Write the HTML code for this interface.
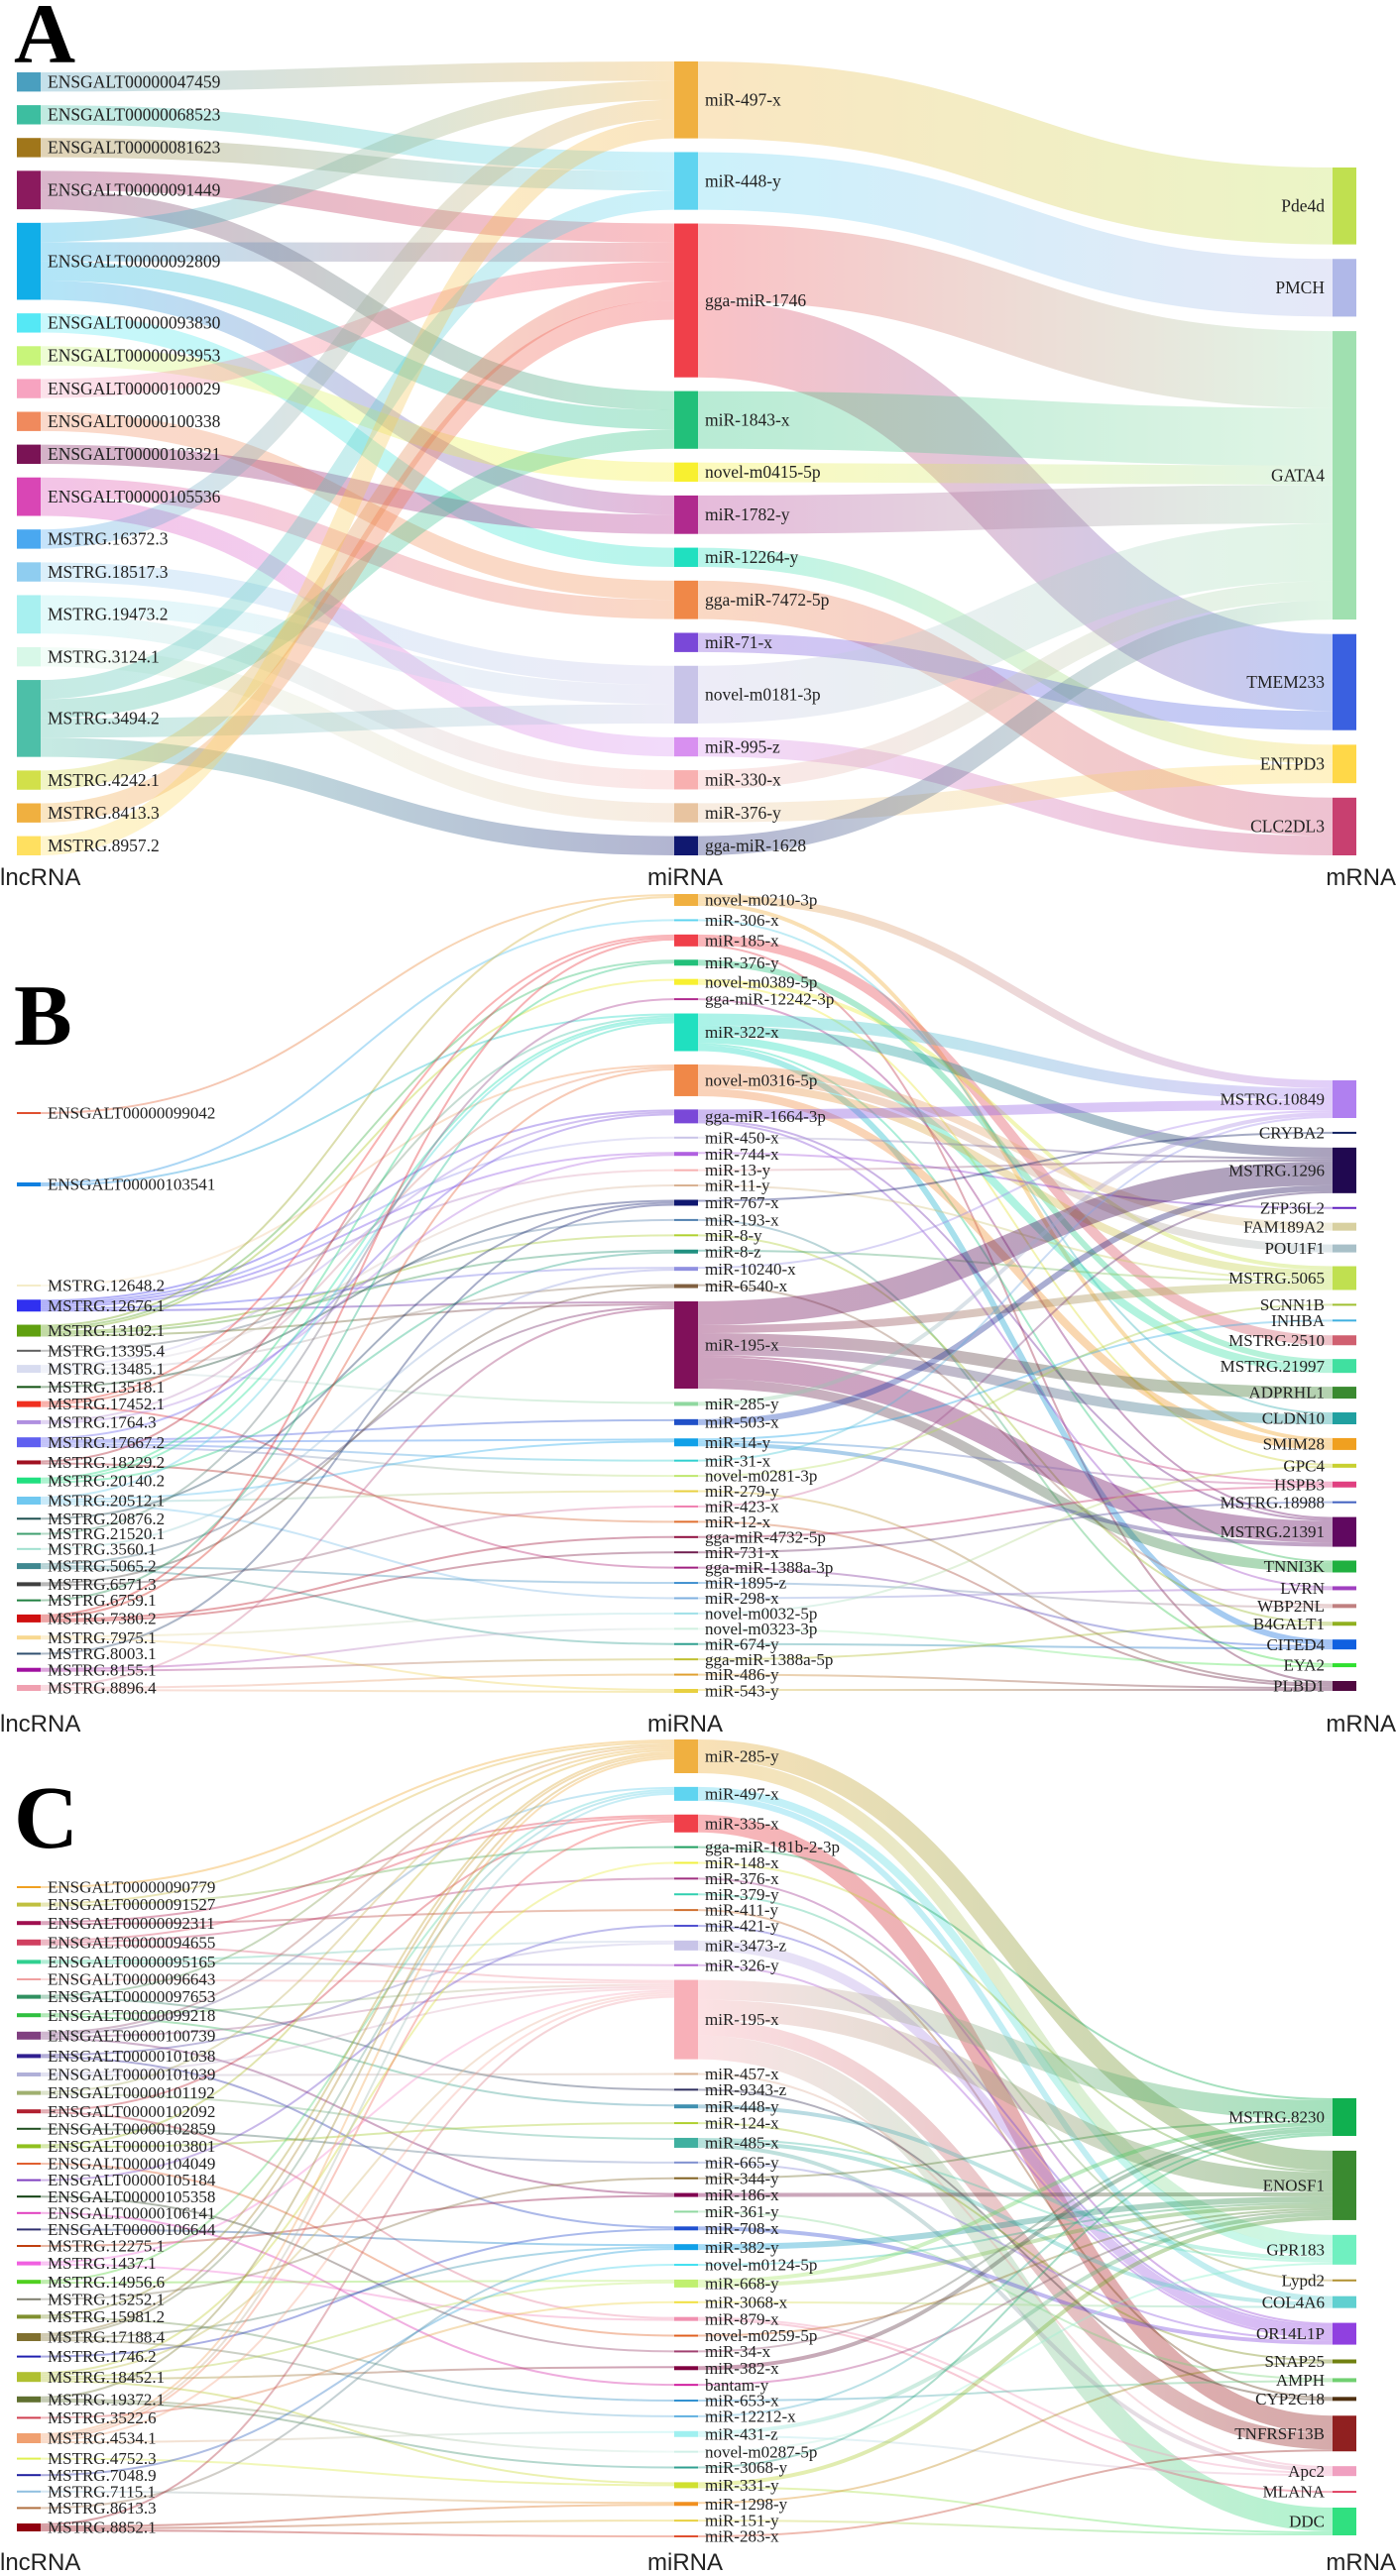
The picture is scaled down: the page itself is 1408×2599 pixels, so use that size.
<!DOCTYPE html>
<html><head><meta charset="utf-8"><title>Sankey lncRNA-miRNA-mRNA</title>
<style>
html,body{margin:0;padding:0;background:#fff;}
svg{display:block;}
.lab{font-family:"Liberation Serif","Times New Roman",serif;fill:#222;}
.ax{font-family:"Liberation Sans",Arial,sans-serif;font-size:24px;fill:#222;}
.pl{font-family:"Liberation Serif","Times New Roman",serif;font-weight:bold;fill:#000;}
</style></head>
<body>
<svg id="chart" xmlns="http://www.w3.org/2000/svg" width="1408" height="2599" viewBox="0 0 1408 2599">
<rect x="0" y="0" width="1408" height="2599" fill="#fff"/>
<defs id="defs"></defs>
<g id="links"></g><g id="nodes"></g><g id="labels"></g>
<text class="pl" x="14" y="63" font-size="86">A</text>
<text class="pl" x="14" y="1054" font-size="88">B</text>
<text class="pl" x="14" y="1864" font-size="90">C</text>
<g>
<text class="ax" x="0" y="893">lncRNA</text>
<text class="ax" x="691" y="893" text-anchor="middle">miRNA</text>
<text class="ax" x="1408" y="893" text-anchor="end">mRNA</text>
</g>
<g>
<text class="ax" x="0" y="1747">lncRNA</text>
<text class="ax" x="691" y="1747" text-anchor="middle">miRNA</text>
<text class="ax" x="1408" y="1747" text-anchor="end">mRNA</text>
</g>
<g>
<text class="ax" x="0" y="2593">lncRNA</text>
<text class="ax" x="691" y="2593" text-anchor="middle">miRNA</text>
<text class="ax" x="1408" y="2593" text-anchor="end">mRNA</text>
</g>
</svg>
<script>
// ---------------- Panel A data ----------------
const A_lnc = ["ENSGALT00000047459","ENSGALT00000068523","ENSGALT00000081623","ENSGALT00000091449","ENSGALT00000092809","ENSGALT00000093830","ENSGALT00000093953","ENSGALT00000100029","ENSGALT00000100338","ENSGALT00000103321","ENSGALT00000105536","MSTRG.16372.3","MSTRG.18517.3","MSTRG.19473.2","MSTRG.3124.1","MSTRG.3494.2","MSTRG.4242.1","MSTRG.8413.3","MSTRG.8957.2"];
const A_lncColors = ["#4a9fbf","#3dbea0","#a0761a","#8b1a5e","#11aee8","#55e8f5","#c8f57a","#f7a3c0","#f08a5d","#7a1355","#d946b5","#4aa8f0","#8fcdf0","#a8f0f0","#d8f8e8","#4dbfa8","#d2e04a","#f0b040","#ffe060"];
const A_mi = ["miR-497-x","miR-448-y","gga-miR-1746","miR-1843-x","novel-m0415-5p","miR-1782-y","miR-12264-y","gga-miR-7472-5p","miR-71-x","novel-m0181-3p","miR-995-z","miR-330-x","miR-376-y","gga-miR-1628"];
const A_miColors = ["#f0b040","#5fd4f0","#f0404a","#22c07a","#f8f030","#b02a8e","#20e0c0","#f08848","#7a48d8","#c8c4e8","#d890f0","#f8b0b0","#e8c4a0","#101870"];
const A_m = ["Pde4d","PMCH","GATA4","TMEM233","ENTPD3","CLC2DL3"];
const A_mColors = ["#c0e050","#b0b8e8","#a0e0b0","#3a60e0","#ffd848","#c84070"];
const A_lncMi = [["47459","miR-497-x",1],["68523","miR-448-y",1],["81623","miR-448-y",1],["91449","gga-miR-1746",1],["91449","miR-1843-x",1],["92809","miR-497-x",1],["92809","gga-miR-1746",1],["92809","miR-1843-x",1],["92809","miR-1782-y",1],["93830","miR-12264-y",1],["93953","novel-m0415-5p",1],["100029","gga-miR-1746",1],["100338","gga-miR-7472-5p",1],["103321","miR-1782-y",1],["105536","gga-miR-7472-5p",1],["105536","miR-995-z",1],["16372.3","miR-497-x",1],["18517.3","novel-m0181-3p",1],["19473.2","novel-m0181-3p",1],["19473.2","miR-330-x",1],["3124.1","miR-376-y",1],["3494.2","miR-448-y",1],["3494.2","miR-1843-x",1],["3494.2","novel-m0181-3p",1],["3494.2","gga-miR-1628",1],["4242.1","gga-miR-1746",1],["8413.3","gga-miR-1746",1],["8957.2","miR-497-x",1]];
const A_miM = [["miR-497-x","Pde4d",4],["miR-448-y","PMCH",3],["gga-miR-1746","GATA4",4],["gga-miR-1746","TMEM233",4],["miR-1843-x","GATA4",3],["novel-m0415-5p","GATA4",1],["miR-1782-y","GATA4",2],["miR-12264-y","ENTPD3",1],["gga-miR-7472-5p","CLC2DL3",2],["miR-71-x","TMEM233",1],["novel-m0181-3p","GATA4",3],["miR-995-z","CLC2DL3",1],["miR-330-x","GATA4",1],["miR-376-y","ENTPD3",1],["gga-miR-1628","GATA4",1]];

// ---------------- Panel B data ----------------
const B_lnc = ["ENSGALT00000099042","ENSGALT00000103541","MSTRG.12648.2","MSTRG.12676.1","MSTRG.13102.1","MSTRG.13395.4","MSTRG.13485.1","MSTRG.13518.1","MSTRG.17452.1","MSTRG.1764.3","MSTRG.17667.2","MSTRG.18229.2","MSTRG.20140.2","MSTRG.20512.1","MSTRG.20876.2","MSTRG.21520.1","MSTRG.3560.1","MSTRG.5065.2","MSTRG.6571.3","MSTRG.6759.1","MSTRG.7380.2","MSTRG.7975.1","MSTRG.8003.1","MSTRG.8155.1","MSTRG.8896.4"];
const B_lncColors = ["#e05030","#1080e0","#f4ecc8","#3030f0","#60a010","#606060","#d8dcf0","#105010","#f03020","#b090e0","#6060f0","#a01020","#20e080","#70c8f0","#205050","#40a070","#a0e0d0","#408890","#404040","#208040","#d01010","#f8d890","#305070","#a010a0","#f0a0b0"];
const B_mi = ["novel-m0210-3p","miR-306-x","miR-185-x","miR-376-y","novel-m0389-5p","gga-miR-12242-3p","miR-322-x","novel-m0316-5p","gga-miR-1664-3p","miR-450-x","miR-744-x","miR-13-y","miR-11-y","miR-767-x","miR-193-x","miR-8-y","miR-8-z","miR-10240-x","miR-6540-x","miR-195-x","miR-285-y","miR-503-x","miR-14-y","miR-31-x","novel-m0281-3p","miR-279-y","miR-423-x","miR-12-x","gga-miR-4732-5p","miR-731-x","gga-miR-1388a-3p","miR-1895-z","miR-298-x","novel-m0032-5p","novel-m0323-3p","miR-674-y","gga-miR-1388a-5p","miR-486-y","miR-543-y"];
const B_miColors = ["#f0b040","#5fd4f0","#f0404a","#22c07a","#f8f030","#b02a8e","#20e0c0","#f08848","#7a48d8","#c8c4e8","#b060e0","#f8b0b0","#d8b090","#101870","#5080b0","#b0d030","#209080","#9090e0","#806040","#80105a","#90d8a0","#2050c8","#10a0e8","#30d0d0","#c0e870","#e8d040","#f080b0","#e07030","#901040","#702050","#a02080","#4090d0","#80b0e0","#a0e0e8","#d0f0e0","#30a090","#c0c030","#e0a030","#e8d040"];
const B_m = ["MSTRG.10849","CRYBA2","MSTRG.1296","ZFP36L2","FAM189A2","POU1F1","MSTRG.5065","SCNN1B","INHBA","MSTRG.2510","MSTRG.21997","ADPRHL1","CLDN10","SMIM28","GPC4","HSPB3","MSTRG.18988","MSTRG.21391","TNNI3K","LVRN","WBP2NL","B4GALT1","CITED4","EYA2","PLBD1"];
const B_mColors = ["#b080f0","#102060","#200850","#6020c0","#d8d0a0","#a8c0c8","#c0e050","#a0c030","#40b0e0","#d06070","#40e0a0","#3a8a30","#20a0a0","#f0a020","#c8d030","#e04080","#4060c0","#600860","#20b040","#a040c0","#c08080","#90b020","#1060e0","#30e030","#500840"];
const B_lncMi = [["99042","novel-m0210-3p",1],["103541","miR-306-x",1],["103541","miR-322-x",1],["12648.2","novel-m0316-5p",1],["12676.1","gga-miR-1664-3p",1],["12676.1","miR-450-x",1],["12676.1","miR-744-x",1],["12676.1","miR-13-y",1],["12676.1","miR-10240-x",1],["12676.1","miR-195-x",1],["13102.1","novel-m0210-3p",1],["13102.1","miR-376-y",1],["13102.1","miR-8-y",1],["13102.1","miR-8-z",1],["13102.1","novel-m0389-5p",1],["13102.1","miR-195-x",1],["13395.4","miR-193-x",1],["13485.1","gga-miR-1664-3p",1],["13485.1","miR-11-y",1],["13485.1","miR-6540-x",1],["13485.1","miR-285-y",1],["13518.1","miR-767-x",1],["17452.1","miR-185-x",1],["17452.1","miR-322-x",1],["17452.1","gga-miR-1388a-3p",1],["1764.3","miR-744-x",1],["1764.3","novel-m0316-5p",1],["17667.2","miR-14-y",1],["17667.2","miR-503-x",1],["17667.2","gga-miR-1664-3p",1],["17667.2","miR-31-x",1],["17667.2","novel-m0281-3p",1],["18229.2","miR-185-x",1],["18229.2","miR-12-x",1],["20140.2","miR-376-y",1],["20140.2","miR-322-x",1],["20140.2","miR-8-z",1],["20512.1","miR-14-y",1],["20512.1","miR-322-x",1],["20512.1","miR-279-y",1],["20512.1","miR-298-x",1],["20876.2","miR-767-x",1],["21520.1","gga-miR-12242-3p",1],["3560.1","miR-10240-x",1],["5065.2","miR-1895-z",1],["5065.2","miR-195-x",1],["5065.2","miR-674-y",1],["6571.3","miR-423-x",1],["6571.3","miR-6540-x",1],["6759.1","miR-322-x",1],["7380.2","miR-185-x",1],["7380.2","gga-miR-4732-5p",1],["7380.2","miR-731-x",1],["7380.2","novel-m0316-5p",1],["7975.1","miR-543-y",1],["7975.1","novel-m0032-5p",1],["8003.1","miR-767-x",1],["8155.1","gga-miR-1388a-5p",1],["8155.1","novel-m0323-3p",1],["8896.4","miR-486-y",1],["8896.4","miR-543-y",1],["8896.4","miR-195-x",1]];
const B_miM = [["novel-m0210-3p","SMIM28",2],["novel-m0210-3p","MSTRG.10849",4],["miR-306-x","CLDN10",1],["miR-185-x","MSTRG.2510",5],["miR-185-x","PLBD1",1],["miR-376-y","MSTRG.21997",3],["novel-m0389-5p","MSTRG.5065",2],["novel-m0389-5p","GPC4",1],["gga-miR-12242-3p","MSTRG.21391",1],["miR-322-x","MSTRG.10849",6],["miR-322-x","MSTRG.1296",5],["miR-322-x","MSTRG.21997",4],["miR-322-x","CITED4",3],["miR-322-x","TNNI3K",1],["novel-m0316-5p","FAM189A2",4],["novel-m0316-5p","POU1F1",4],["novel-m0316-5p","MSTRG.5065",4],["novel-m0316-5p","SMIM28",4],["gga-miR-1664-3p","MSTRG.10849",5],["gga-miR-1664-3p","MSTRG.21391",1],["gga-miR-1664-3p","LVRN",1],["miR-450-x","MSTRG.1296",1],["miR-744-x","ZFP36L2",1],["miR-13-y","MSTRG.1296",1],["miR-11-y","MSTRG.5065",1],["miR-767-x","CRYBA2",1],["miR-193-x","EYA2",1],["miR-8-y","B4GALT1",1],["miR-8-z","MSTRG.5065",1],["miR-10240-x","MSTRG.10849",1],["miR-6540-x","WBP2NL",1],["miR-195-x","MSTRG.1296",12],["miR-195-x","MSTRG.5065",4],["miR-195-x","ADPRHL1",6],["miR-195-x","CLDN10",5],["miR-195-x","MSTRG.21391",11],["miR-195-x","TNNI3K",5],["miR-195-x","HSPB3",1],["miR-285-y","MSTRG.10849",2],["miR-503-x","MSTRG.1296",3],["miR-14-y","HSPB3",1],["miR-14-y","MSTRG.21391",2],["miR-14-y","INHBA",1],["miR-31-x","MSTRG.10849",1],["novel-m0281-3p","SCNN1B",1],["miR-279-y","PLBD1",1],["miR-423-x","MSTRG.1296",1],["miR-12-x","PLBD1",1],["gga-miR-4732-5p","HSPB3",1],["miR-731-x","MSTRG.18988",1],["gga-miR-1388a-3p","CITED4",1],["miR-1895-z","WBP2NL",1],["miR-298-x","LVRN",1],["novel-m0032-5p","GPC4",1],["novel-m0323-3p","EYA2",1],["miR-674-y","CITED4",1],["gga-miR-1388a-5p","B4GALT1",1],["miR-486-y","PLBD1",1],["miR-543-y","PLBD1",1]];

// ---------------- Panel C data ----------------
const C_lnc = ["ENSGALT00000090779","ENSGALT00000091527","ENSGALT00000092311","ENSGALT00000094655","ENSGALT00000095165","ENSGALT00000096643","ENSGALT00000097653","ENSGALT00000099218","ENSGALT00000100739","ENSGALT00000101038","ENSGALT00000101039","ENSGALT00000101192","ENSGALT00000102092","ENSGALT00000102859","ENSGALT00000103801","ENSGALT00000104049","ENSGALT00000105184","ENSGALT00000105358","ENSGALT00000106141","ENSGALT00000106644","MSTRG.12275.1","MSTRG.1437.1","MSTRG.14956.6","MSTRG.15252.1","MSTRG.15981.2","MSTRG.17188.4","MSTRG.1746.2","MSTRG.18452.1","MSTRG.19372.1","MSTRG.3522.6","MSTRG.4534.1","MSTRG.4752.3","MSTRG.7048.9","MSTRG.7115.1","MSTRG.8613.3","MSTRG.8852.1"];
const C_lncColors = ["#f0a020","#c0c040","#a01050","#d04060","#30d090","#f0a0a0","#309060","#30c040","#804080","#302090","#b0b0d8","#a0b070","#b02030","#205020","#90c020","#e06030","#8040c0","#104010","#e040c0","#303070","#c04010","#f060e0","#50d020","#808070","#809030","#807030","#2020b0","#b0c030","#607030","#d04050","#f0a070","#e0f050","#2020a0","#90c0e0","#b07040","#900010"];
const C_mi = ["miR-285-y","miR-497-x","miR-335-x","gga-miR-181b-2-3p","miR-148-x","miR-376-x","miR-379-y","miR-411-y","miR-421-y","miR-3473-z","miR-326-y","miR-195-x","miR-457-x","miR-9343-z","miR-448-y","miR-124-x","miR-485-x","miR-665-y","miR-344-y","miR-186-x","miR-361-y","miR-708-x","miR-382-y","novel-m0124-5p","miR-668-y","miR-3068-x","miR-879-x","novel-m0259-5p","miR-34-x","miR-382-x","bantam-y","miR-653-x","miR-12212-x","miR-431-z","novel-m0287-5p","miR-3068-y","miR-331-y","miR-1298-y","miR-151-y","miR-283-x"];
const C_miColors = ["#f0b040","#5fd4f0","#f0404a","#20a060","#f0f040","#a03080","#30d0b0","#d07030","#5050d0","#c8c4e8","#b060d0","#f8b0b8","#d8b090","#303060","#4090b0","#b0d030","#40b0a0","#8090d0","#806020","#800050","#90d8a0","#2050d0","#10a0e8","#40e0f0","#c0f070","#f0e040","#f090b0","#e06020","#a04070","#800040","#d020a0","#3090d0","#60b0e0","#a0f0f0","#d0f0e8","#30a090","#d0e030","#f09020","#e8d040","#e05030"];
const C_m = ["MSTRG.8230","ENOSF1","GPR183","Lypd2","COL4A6","OR14L1P","SNAP25","AMPH","CYP2C18","TNFRSF13B","Apc2","MLANA","DDC"];
const C_mColors = ["#10b050","#3a8a30","#70f0c0","#b09030","#60d0d0","#9040e0","#708010","#70d070","#503010","#902020","#f0a0c0","#e04060","#30e080"];
const C_lncMi = [["90779","miR-285-y",1],["91527","gga-miR-181b-2-3p",1],["91527","miR-285-y",1],["92311","miR-411-y",1],["92311","miR-335-x",1],["94655","miR-376-x",1],["94655","miR-195-x",1],["94655","miR-335-x",1],["95165","miR-326-y",1],["95165","miR-3473-z",1],["96643","miR-195-x",1],["97653","miR-9343-z",1],["97653","miR-285-y",1],["99218","miR-448-y",1],["99218","miR-195-x",1],["100739","miR-186-x",1],["100739","miR-285-y",1],["100739","miR-195-x",1],["100739","miR-497-x",1],["101038","miR-708-x",1],["101038","miR-3473-z",1],["101039","miR-457-x",1],["101039","miR-195-x",1],["101192","miR-485-x",1],["101192","miR-285-y",1],["102092","miR-879-x",1],["102092","miR-335-x",1],["102859","miR-665-y",1],["103801","miR-124-x",1],["103801","miR-285-y",1],["104049","novel-m0259-5p",1],["105184","miR-421-y",1],["105358","miR-34-x",1],["106141","bantam-y",1],["106644","miR-382-y",1],["12275.1","miR-186-x",1],["1437.1","miR-879-x",1],["1437.1","miR-195-x",1],["14956.6","miR-668-y",1],["14956.6","miR-497-x",1],["15252.1","miR-344-y",1],["15981.2","miR-653-x",1],["15981.2","miR-285-y",1],["17188.4","miR-382-y",1],["17188.4","miR-12212-x",1],["17188.4","miR-285-y",1],["17188.4","miR-497-x",1],["1746.2","miR-708-x",1],["18452.1","miR-382-x",1],["18452.1","miR-668-y",1],["18452.1","miR-331-y",1],["18452.1","miR-195-x",1],["18452.1","miR-148-x",1],["19372.1","novel-m0287-5p",1],["19372.1","miR-3068-y",1],["19372.1","miR-285-y",1],["3522.6","miR-3068-x",1],["4534.1","miR-431-z",1],["4534.1","miR-497-x",1],["4534.1","miR-335-x",1],["4534.1","miR-195-x",1],["4534.1","miR-285-y",1],["4752.3","miR-331-y",1],["7048.9","novel-m0124-5p",1],["7115.1","miR-1298-y",1],["8613.3","miR-382-y",1],["8852.1","miR-283-x",1],["8852.1","miR-151-y",1],["8852.1","miR-195-x",1],["8852.1","miR-1298-y",1]];
const C_miM = [["miR-285-y","ENOSF1",10],["miR-285-y","GPR183",7],["miR-497-x","GPR183",4],["miR-497-x","COL4A6",3],["miR-335-x","TNFRSF13B",9],["gga-miR-181b-2-3p","MSTRG.8230",1],["miR-148-x","ENOSF1",1],["miR-376-x","OR14L1P",1],["miR-379-y","Lypd2",1],["miR-411-y","CYP2C18",1],["miR-421-y","OR14L1P",1],["miR-3473-z","OR14L1P",5],["miR-326-y","OR14L1P",1],["miR-195-x","MSTRG.8230",10],["miR-195-x","ENOSF1",10],["miR-195-x","TNFRSF13B",8],["miR-195-x","DDC",12],["miR-457-x","Apc2",1],["miR-9343-z","CYP2C18",1],["miR-448-y","GPR183",2],["miR-124-x","SNAP25",1],["miR-485-x","COL4A6",2],["miR-485-x","GPR183",1],["miR-485-x","Apc2",2],["miR-665-y","OR14L1P",1],["miR-344-y","MSTRG.8230",1],["miR-186-x","ENOSF1",2],["miR-361-y","AMPH",1],["miR-708-x","OR14L1P",2],["miR-382-y","ENOSF1",3],["novel-m0124-5p","ENOSF1",1],["miR-668-y","ENOSF1",2],["miR-668-y","MSTRG.8230",2],["miR-3068-x","COL4A6",1],["miR-879-x","Apc2",1],["miR-879-x","MLANA",1],["novel-m0259-5p","ENOSF1",1],["miR-34-x","MSTRG.8230",1],["miR-382-x","MSTRG.8230",2],["bantam-y","ENOSF1",1],["miR-653-x","AMPH",1],["miR-12212-x","MSTRG.8230",1],["miR-431-z","ENOSF1",2],["miR-431-z","Apc2",1],["novel-m0287-5p","GPR183",1],["miR-3068-y","MSTRG.8230",1],["miR-331-y","ENOSF1",2],["miR-331-y","DDC",1],["miR-1298-y","SNAP25",1],["miR-151-y","DDC",1],["miR-283-x","TNFRSF13B",1]];

// ---------------- layout / rendering ----------------
const NS = "http://www.w3.org/2000/svg";
const COLX = [17, 680, 1344];
const NODE_W = 24;
const defs = document.getElementById('defs');
const gLinks = document.getElementById('links');
const gNodes = document.getElementById('nodes');
const gLabels = document.getElementById('labels');
let gradId = 0;

function mk(tag, attrs) {
  const e = document.createElementNS(NS, tag);
  for (const k in attrs) e.setAttribute(k, attrs[k]);
  return e;
}
function slug(s) { return s.toLowerCase().replace(/[^a-z0-9]+/g, '-').replace(/^-|-$/g, ''); }
function findIdx(names, key) {
  let i = names.indexOf(key);
  if (i >= 0) return i;
  for (let j = 0; j < names.length; j++) if (names[j].endsWith(key)) return j;
  return -1;
}

function drawPanel(tag, cols, colors, linkSets, groups, k, fontSize, opacity) {
  const vin = cols.map(c => c.map(() => 0));
  const vout = cols.map(c => c.map(() => 0));
  const L = [];
  linkSets.forEach((set, c) => {
    set.forEach(([a, b, v]) => {
      const s = findIdx(cols[c], a), t = findIdx(cols[c + 1], b);
      if (s < 0 || t < 0) return;
      L.push({ c, s, t, v });
      vout[c][s] += v; vin[c + 1][t] += v;
    });
  });
  const val = cols.map((c, ci) => c.map((_, i) => Math.max(vin[ci][i], vout[ci][i], 1)));
  const top = cols.map(c => c.map(() => 0));
  groups.forEach((gs, ci) => {
    gs.forEach(([i0, i1, y0, y1]) => {
      let sum = 0; for (let i = i0; i <= i1; i++) sum += val[ci][i] * k;
      const n = i1 - i0 + 1;
      const gap = n > 1 ? (y1 - y0 - sum) / (n - 1) : 0;
      let y = y0;
      for (let i = i0; i <= i1; i++) { top[ci][i] = y; y += val[ci][i] * k + gap; }
    });
  });
  // link offsets
  const outOff = cols.map(c => c.map(() => 0));
  const inOff = cols.map(c => c.map(() => 0));
  const bySrc = [...L].sort((p, q) => p.c - q.c || p.s - q.s || top[p.c + 1][p.t] - top[q.c + 1][q.t]);
  bySrc.forEach(l => { l.y0 = top[l.c][l.s] + outOff[l.c][l.s] + l.v * k / 2; outOff[l.c][l.s] += l.v * k; });
  const byTgt = [...L].sort((p, q) => p.c - q.c || p.t - q.t || top[p.c][p.s] - top[q.c][q.s]);
  byTgt.forEach(l => { l.y1 = top[l.c + 1][l.t] + inOff[l.c + 1][l.t] + l.v * k / 2; inOff[l.c + 1][l.t] += l.v * k; });

  L.forEach(l => {
    const x0 = COLX[l.c] + NODE_W, x1 = COLX[l.c + 1], xm = (x0 + x1) / 2;
    const id = 'g' + (gradId++);
    const lg = mk('linearGradient', { id: id, gradientUnits: 'userSpaceOnUse', x1: x0, y1: 0, x2: x1, y2: 0 });
    lg.appendChild(mk('stop', { offset: '0', 'stop-color': colors[l.c][l.s] }));
    lg.appendChild(mk('stop', { offset: '1', 'stop-color': colors[l.c + 1][l.t] }));
    defs.appendChild(lg);
    const p = mk('path', {
      d: `M${x0},${l.y0} C${xm},${l.y0} ${xm},${l.y1} ${x1},${l.y1}`,
      fill: 'none', stroke: `url(#${id})`, 'stroke-width': Math.max(l.v * k, 1), 'stroke-opacity': opacity
    });
    
    
    gLinks.appendChild(p);
  });

  cols.forEach((names, ci) => {
    names.forEach((nm, i) => {
      const h = Math.max(val[ci][i] * k, 2);
      const r = mk('rect', { x: COLX[ci], y: top[ci][i], width: NODE_W, height: h, fill: colors[ci][i] });
      
      
      gNodes.appendChild(r);
      const cy = top[ci][i] + h / 2 + fontSize * 0.33;
      let t;
      if (ci === 2) t = mk('text', { x: COLX[ci] - 8, y: cy, 'text-anchor': 'end', 'font-size': fontSize, class: 'lab' });
      else t = mk('text', { x: COLX[ci] + NODE_W + 7, y: cy, 'font-size': fontSize, class: 'lab' });
      t.textContent = nm;
      
      
      gLabels.appendChild(t);
    });
  });
}

drawPanel('a', [A_lnc, A_mi, A_m], [A_lncColors, A_miColors, A_mColors], [A_lncMi, A_miM],
  [[[0, A_lnc.length - 1, 73, 863]], [[0, A_mi.length - 1, 62, 863]], [[0, A_m.length - 1, 169, 863]]],
  19.4, 17.5, 0.32);
drawPanel('b', [B_lnc, B_mi, B_m], [B_lncColors, B_miColors, B_mColors], [B_lncMi, B_miM],
  [[[0, 1, 1122, 1197], [2, B_lnc.length - 1, 1296, 1706]], [[0, B_mi.length - 1, 902, 1708]], [[0, B_m.length - 1, 1090, 1706]]],
  2, 17, 0.38);
drawPanel('c', [C_lnc, C_mi, C_m], [C_lncColors, C_miColors, C_mColors], [C_lncMi, C_miM],
  [[[0, C_lnc.length - 1, 1903, 2554]], [[0, C_mi.length - 1, 1755, 2560]], [[0, C_m.length - 1, 2117, 2558]]],
  2, 17, 0.38);
</script>
</body></html>
